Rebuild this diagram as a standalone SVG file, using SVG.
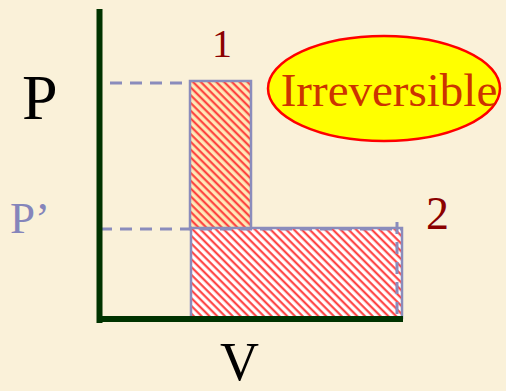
<svg xmlns="http://www.w3.org/2000/svg" width="506" height="391" viewBox="0 0 506 391">
  <style>
    .serif { font-family: "Liberation Serif", "Times New Roman", serif; }
    .dash { stroke: #8a8cbc; stroke-width: 3; stroke-dasharray: 12 8; fill: none; }
    .outline { stroke: #8a8cbc; stroke-width: 2.5; }
    .axis { stroke: #003300; stroke-width: 6; fill: none; }
  </style>
  <defs>
    <pattern id="hatchY" patternUnits="userSpaceOnUse" width="5.5" height="5.5" patternTransform="rotate(-45)">
      <rect width="5.5" height="5.5" fill="#fde9b8"/>
      <line x1="1.5" y1="0" x2="1.5" y2="5.5" stroke="#ff3333" stroke-width="2"/>
    </pattern>
    <pattern id="hatchW" patternUnits="userSpaceOnUse" width="5.5" height="5.5" patternTransform="rotate(-45)">
      <rect width="5.5" height="5.5" fill="#ffffff"/>
      <line x1="1.5" y1="0" x2="1.5" y2="5.5" stroke="#ff3333" stroke-width="2"/>
    </pattern>
  </defs>
  <rect width="506" height="391" fill="#faf1d9"/>

  <g id="area-high">
    <rect x="190" y="81" width="61" height="148" fill="url(#hatchY)" class="outline"/>
  </g>
  <g id="area-low">
    <rect x="191" y="228" width="211" height="90" fill="url(#hatchW)" class="outline"/>
  </g>

  <g id="connectors">
    <line x1="110" y1="83" x2="190" y2="83" class="dash"/>
    <line x1="100" y1="229" x2="402" y2="229" class="dash"/>
    <line x1="397" y1="222" x2="397" y2="318" class="dash"/>
  </g>

  <g id="axes">
    <line x1="99.5" y1="9" x2="99.5" y2="323" class="axis"/>
    <line x1="97" y1="319" x2="403" y2="319" class="axis"/>
  </g>

  <g id="label-P"><text x="22" y="119" class="serif" font-size="64" fill="#000000">P</text></g>
  <g id="label-Pprime"><text x="10" y="233" class="serif" font-size="45" fill="#8585bb">P’</text></g>
  <g id="label-V"><text x="220" y="380" class="serif" font-size="54" fill="#000000">V</text></g>
  <g id="label-1"><text x="212" y="57" class="serif" font-size="40" fill="#8b0000">1</text></g>
  <g id="label-2"><text x="426" y="229" class="serif" font-size="46" fill="#8b0000">2</text></g>

  <g id="badge">
    <ellipse cx="384" cy="88.5" rx="116" ry="52.5" fill="#ffff00" stroke="#ff0000" stroke-width="2.5"/>
    <text x="389" y="106" text-anchor="middle" class="serif" font-size="47" fill="#cc3300">Irreversible</text>
  </g>
</svg>
